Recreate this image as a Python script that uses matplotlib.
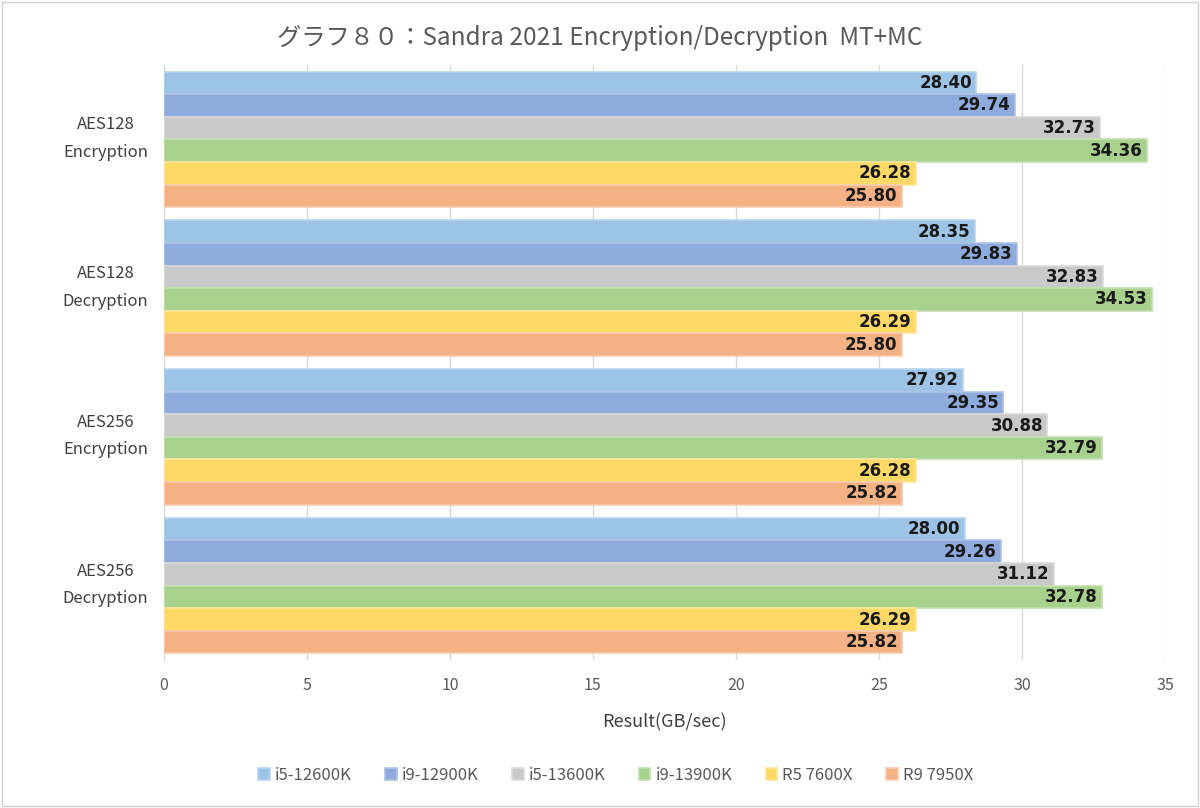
import matplotlib
matplotlib.use("Agg")
import matplotlib.pyplot as plt
import matplotlib.transforms as mtransforms
import numpy as np
from matplotlib.patches import Rectangle

plt.rcParams['font.family'] = ['Noto Sans CJK JP', 'DejaVu Sans']

categories = ["AES128\nEncryption", "AES128\nDecryption", "AES256\nEncryption", "AES256\nDecryption"]
series = ["i5-12600K", "i9-12900K", "i5-13600K", "i9-13900K", "R5 7600X", "R9 7950X"]
i5_12600K = [28.40, 28.35, 27.92, 28.00]
i9_12900K = [29.74, 29.83, 29.35, 29.26]
i5_13600K = [32.73, 32.83, 30.88, 31.12]
i9_13900K = [34.36, 34.53, 32.79, 32.78]
r5_7600X = [26.28, 26.29, 26.28, 26.29]
r9_7950X = [25.80, 25.80, 25.82, 25.82]
values = [i5_12600K, i9_12900K, i5_13600K, i9_13900K, r5_7600X, r9_7950X]
colors = ["#9DC3E6", "#8FAADC", "#C9C9C9", "#A9D18E", "#FFD966", "#F4B183"]
edges = ["#B8D5EE", "#AEC2E6", "#DADADA", "#C2DFAE", "#FFE699", "#F8CBAD"]
xticks = [0, 5, 10, 15, 20, 25, 30, 35]

fig = plt.figure(figsize=(12, 8.08), dpi=100)
ax = fig.add_axes([164/1200, 1-660/808, (1165-164)/1200, (660-65)/808])

n = len(series)
h = 0.152
y0 = np.arange(len(categories))
for i, (name, vals, c, ec) in enumerate(zip(series, values, colors, edges)):
    ypos = y0 - (n-1)/2*h + i*h
    bars = ax.barh(ypos, vals, height=h, color=c, edgecolor=ec, linewidth=1.2,
                   label=name, zorder=3)
    for b, v in zip(bars, vals):
        ax.text(v - 0.15, b.get_y() + b.get_height()/2, f"{v:.2f}", ha='right', va='center',
                fontsize=12, fontweight='bold', color='#1a1a1a', zorder=4,
                family=['DejaVu Sans'])

ax.set_xlim(0, 35)
ax.set_ylim(3.5, -0.5)
ax.set_xticks(xticks)
ax.set_xticklabels([str(t) for t in xticks], color='#595959', fontsize=11.5)
ax.set_yticks(y0)
ax.set_yticklabels(categories, color='#404040', fontsize=12, linespacing=1.8, ha='center')
ax.tick_params(axis='y', length=0, pad=42)
ax.tick_params(axis='x', length=0, pad=12)
shift = mtransforms.ScaledTranslation(0, 8/100, fig.dpi_scale_trans)
for lbl in ax.get_yticklabels():
    lbl.set_transform(lbl.get_transform() + shift)
ax.grid(axis='x', color='#D9D9D9', linewidth=1, zorder=0)
for s in ['top', 'right', 'bottom']:
    ax.spines[s].set_visible(False)
ax.spines['left'].set_color('#D9D9D9')
ax.set_xlabel("Result(GB/sec)", fontsize=13, color='#404040', labelpad=14)

fig.text(0.5, 1-38/808, "グラフ８０：Sandra 2021 Encryption/Decryption  MT+MC",
         ha='center', va='center', fontsize=17.5, color='#595959')

handles, labels = ax.get_legend_handles_labels()
fig.legend(handles, labels, loc='center', bbox_to_anchor=(0.513, 1-775/808), ncol=6,
           frameon=False, fontsize=12, handlelength=0.7, handleheight=0.7,
           columnspacing=2.0, handletextpad=0.3, labelcolor='#595959')

fig.patches.append(Rectangle((0.002, 0.002), 0.996, 0.996, transform=fig.transFigure,
                             fill=False, edgecolor='#D0D0D0', linewidth=1))

fig.savefig("out.png", dpi=100, facecolor='white')
